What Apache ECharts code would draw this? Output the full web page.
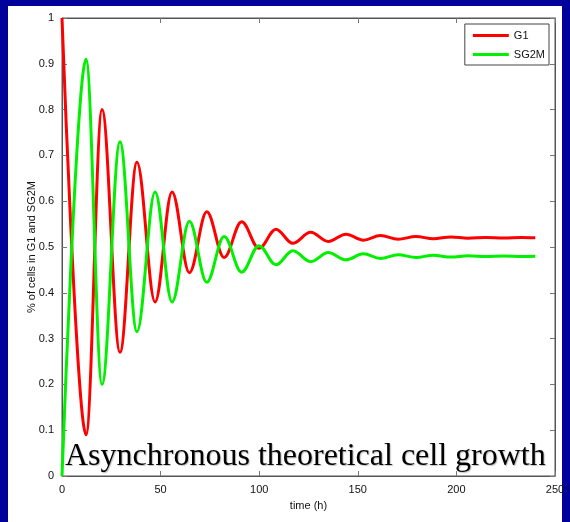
<!DOCTYPE html>
<html>
<head>
<meta charset="utf-8">
<script src="https://cdn.jsdelivr.net/npm/echarts@6/dist/echarts.min.js"></script>
<style>
html,body{margin:0;padding:0;background:#00009a;}
#chart{width:570px;height:522px;}
</style>
</head>
<body>
<div id="chart"></div>
<script>
// time (h) of the turning points of the two curves
var times = [0, 12.2, 20.3, 29.4, 38, 47.2, 55.8, 64.6, 73.4, 82.2, 91.1, 99.9, 108.5, 117, 126.1, 135, 144, 152.8, 161.5, 170.4, 179.5, 188.3, 197.2, 206, 215, 224, 233, 240];
// G1 fraction
var g1 = [1.0, 0.09, 0.80, 0.27, 0.685, 0.38, 0.62, 0.444, 0.577, 0.477, 0.555, 0.497, 0.539, 0.508, 0.532, 0.512, 0.528, 0.515, 0.525, 0.517, 0.523, 0.518, 0.522, 0.519, 0.521, 0.5195, 0.5205, 0.52];
// SG2M fraction
var sg2m = [0.0, 0.91, 0.20, 0.73, 0.315, 0.62, 0.38, 0.556, 0.423, 0.523, 0.445, 0.503, 0.461, 0.492, 0.468, 0.488, 0.472, 0.485, 0.475, 0.483, 0.477, 0.482, 0.478, 0.481, 0.479, 0.4805, 0.4795, 0.48];
var xTicks = [0, 50, 100, 150, 200, 250];
var yTicks = [0, 0.1, 0.2, 0.3, 0.4, 0.5, 0.6, 0.7, 0.8, 0.9, 1];
var titleText = 'Asynchronous theoretical cell growth';
var seriesNames = ['G1', 'SG2M'];

function pairs(xs, ys){ return xs.map(function(x,i){ return [x, ys[i]]; }); }

var chart = echarts.init(document.getElementById('chart'), null, {renderer:'canvas'});
var font = 'Liberation Sans, Arial, Helvetica, sans-serif';
var axisLineStyle = {color:'#555', width:1};
function tick(){ return {show:true, inside:true, length:5, lineStyle:{color:'#777'}}; }
function baseX(){ return {type:'value', min:xTicks[0], max:xTicks[xTicks.length-1], interval:50, splitLine:{show:false}, axisLine:{show:true, onZero:false, lineStyle:axisLineStyle}, axisTick:tick()}; }
function baseY(){ return {type:'value', min:yTicks[0], max:yTicks[yTicks.length-1], interval:0.1, splitLine:{show:false}, axisLine:{show:true, onZero:false, lineStyle:axisLineStyle}, axisTick:tick()}; }

chart.setOption({
  backgroundColor:'#00009a',
  animation:false,
  graphic:{elements:[{type:'rect', z:-100, silent:true, shape:{x:8,y:6,width:554,height:516}, style:{fill:'#ffffff'}}]},
  title:{text:titleText, left:60, top:436, z:10, textStyle:{fontFamily:'Liberation Serif, Times New Roman, serif', fontSize:32, fontWeight:'normal', color:'#000', textShadowColor:'rgba(0,0,0,0.25)', textShadowOffsetX:1, textShadowOffsetY:1, textShadowBlur:1}},
  legend:{data:seriesNames, orient:'vertical', right:21, top:24, itemWidth:36, itemHeight:3, itemGap:8, icon:'rect', padding:[6,4,5,8], borderColor:'#444', borderWidth:1, backgroundColor:'#fff', textStyle:{fontFamily:font, fontSize:11, color:'#111'}},
  grid:{left:62, right:15, top:18, bottom:46, containLabel:false, show:true, borderColor:'#555', borderWidth:1, backgroundColor:'rgba(0,0,0,0)'},
  xAxis:[
    Object.assign(baseX(), {position:'bottom', name:'time (h)', nameLocation:'middle', nameGap:24, nameMoveOverlap:false, nameTextStyle:{fontFamily:font, fontSize:11, color:'#111'}, axisLabel:{fontFamily:font, fontSize:11, color:'#111', margin:8}}),
    Object.assign(baseX(), {position:'top', axisLabel:{show:false}})
  ],
  yAxis:[
    Object.assign(baseY(), {position:'left', name:'% of cells in G1 and SG2M', nameLocation:'middle', nameGap:25, nameMoveOverlap:false, nameTextStyle:{fontFamily:font, fontSize:11, color:'#111'}, axisLabel:{fontFamily:font, fontSize:11, color:'#111', margin:8}}),
    Object.assign(baseY(), {position:'right', axisLabel:{show:false}})
  ],
  series:[
    {name:seriesNames[0], type:'line', data:pairs(times, g1), smooth:0.36, smoothMonotone:'x', showSymbol:false, lineStyle:{color:'#ff0000', width:3}, itemStyle:{color:'#ff0000'}},
    {name:seriesNames[1], type:'line', data:pairs(times, sg2m), smooth:0.36, smoothMonotone:'x', showSymbol:false, lineStyle:{color:'#00f000', width:3}, itemStyle:{color:'#00f000'}}
  ]
});
</script>
</body>
</html>
